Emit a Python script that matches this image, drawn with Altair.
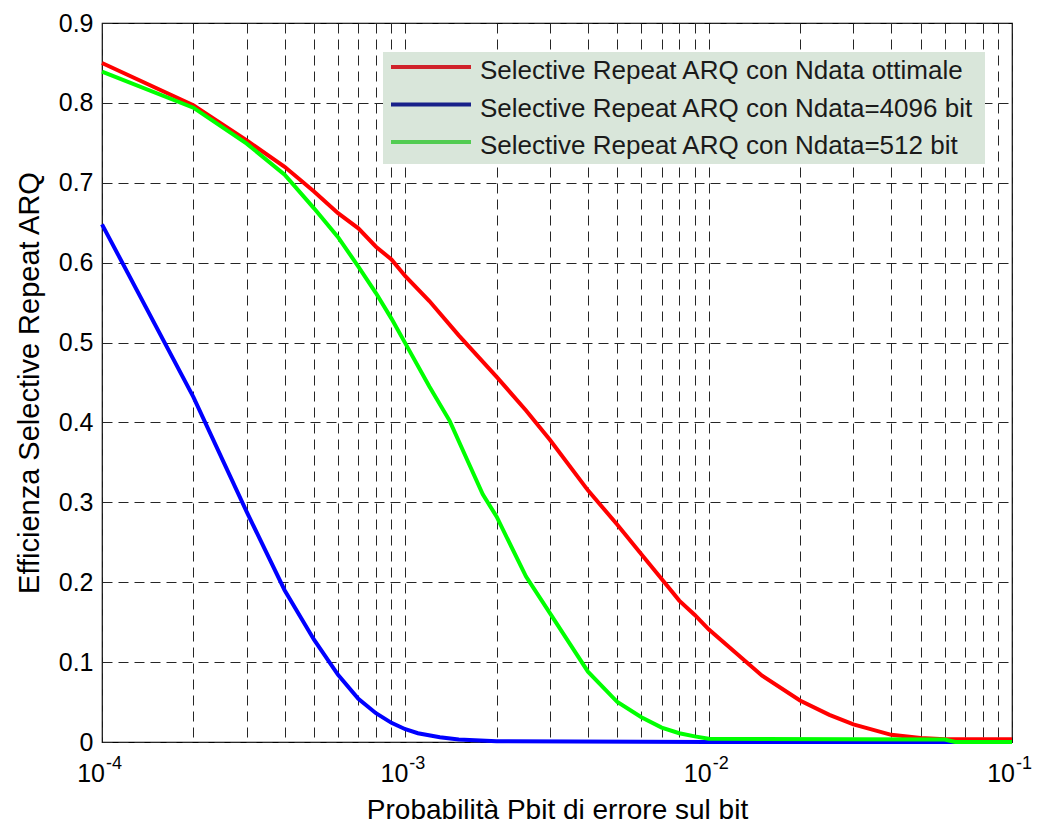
import altair as alt
import pandas as pd

FONT = "Liberation Sans"

# Selective Repeat ARQ efficiency versus bit error probability
# optimal frame length
p_opt = [1e-4, 2e-4, 3e-4, 4e-4, 5e-4, 6e-4, 7e-4, 8e-4, 9e-4,
         1e-3, 1.2e-3, 1.5e-3, 2e-3, 2.5e-3, 3e-3, 4e-3, 5e-3, 6e-3, 7e-3, 8e-3, 9e-3,
         1e-2, 1.5e-2, 2e-2, 2.5e-2, 3e-2, 4e-2, 5e-2, 6e-2, 8e-2, 1e-1]
eff_opt = [0.850, 0.797, 0.753, 0.720, 0.689, 0.662, 0.643, 0.620, 0.604,
           0.583, 0.552, 0.509, 0.457, 0.415, 0.378, 0.315, 0.272, 0.235, 0.204, 0.177, 0.159,
           0.141, 0.083, 0.052, 0.034, 0.022, 0.009, 0.005, 0.0035, 0.0035, 0.0035]

# Ndata = 4096 bit
p_4096 = [1e-4, 2e-4, 3e-4, 4e-4, 5e-4, 6e-4, 7e-4, 8e-4, 9e-4,
          1e-3, 1.1e-3, 1.3e-3, 1.5e-3, 2e-3, 1e-2, 1e-1]
eff_4096 = [0.648, 0.432, 0.288, 0.190, 0.128, 0.084, 0.054, 0.036, 0.024,
            0.016, 0.011, 0.006, 0.003, 0.001, 0.0, 0.0]

# Ndata = 512 bit
p_512 = [1e-4, 2e-4, 3e-4, 4e-4, 5e-4, 6e-4, 7e-4, 8e-4, 9e-4,
         1e-3, 1.2e-3, 1.4e-3, 1.6e-3, 1.8e-3, 2e-3, 2.5e-3, 3e-3, 3.5e-3, 4e-3,
         5e-3, 6e-3, 7e-3, 8e-3, 9e-3, 1e-2, 6e-2, 6.5e-2, 1e-1]
eff_512 = [0.839, 0.794, 0.749, 0.710, 0.668, 0.632, 0.595, 0.562, 0.530,
           0.499, 0.445, 0.402, 0.353, 0.310, 0.282, 0.207, 0.161, 0.122, 0.088,
           0.050, 0.031, 0.018, 0.011, 0.007, 0.004, 0.003, 0.0, 0.0]

series_names = [
    "Selective Repeat ARQ con Ndata ottimale",
    "Selective Repeat ARQ con Ndata=4096 bit",
    "Selective Repeat ARQ con Ndata=512 bit",
]
series_colors = ["#ff0000", "#0000ff", "#00ff00"]
swatch_colors = ["#d0222a", "#18208a", "#52cc52"]

decade_ticks = [1e-4, 1e-3, 1e-2, 1e-1]
decade_exponents = ["-4", "-3", "-2", "-1"]
grid_x = [m * 10.0 ** k for k in (-4, -3, -2) for m in range(1, 10)] + [1e-1]
grid_y = [0.0, 0.1, 0.2, 0.3, 0.4, 0.5, 0.6, 0.7, 0.8, 0.9]

W, H = 910, 719

frames = []
for name, xs, ys in zip(series_names, [p_opt, p_4096, p_512], [eff_opt, eff_4096, eff_512]):
    frames.append(pd.DataFrame({"p": xs, "eff": ys, "serie": name}))
curves = pd.concat(frames, ignore_index=True)

x_scale = alt.Scale(type="log", domain=[1e-4, 1e-1], nice=False)
y_scale = alt.Scale(domain=[0, 0.9], nice=False, zero=False)

grid_style = dict(grid=True, gridColor="#262626", gridDash=[10, 6], gridWidth=1,
                  ticks=False, tickSize=0, domain=False)

x_axis = alt.Axis(values=grid_x, labels=False, title="Probabilità Pbit di errore sul bit",
                  titleFont=FONT, titleFontSize=28, titleFontWeight="normal",
                  titleColor="black", titleY=76, titleBaseline="alphabetic", **grid_style)
y_axis = alt.Axis(values=grid_y, labelExpr="datum.value == 0 ? '0' : format(datum.value, '.1f')",
                  labelFont=FONT, labelFontSize=25, labelColor="black", labelPadding=9,
                  title="Efficienza Selective Repeat ARQ", titleFont=FONT, titleFontSize=29,
                  titleFontWeight="normal", titleColor="black", titleAngle=270,
                  titleX=-73, titleY=H / 2, titleAlign="center", titleBaseline="middle",
                  **grid_style)

x_enc = alt.X("p:Q", scale=x_scale, axis=x_axis)

base = alt.Chart(curves).encode(
    x=x_enc,
    y=alt.Y("eff:Q", scale=y_scale, axis=y_axis),
)

lines = [
    base.transform_filter(alt.datum.serie == name).mark_line(color=col, strokeWidth=4)
    for name, col in zip(series_names, series_colors)
]

# decade labels on the log axis: "10" with a raised exponent
ticks_df = pd.DataFrame({"p": decade_ticks, "base": ["10"] * len(decade_ticks), "exp": decade_exponents})
tick_base = alt.Chart(ticks_df).mark_text(
    align="right", baseline="alphabetic", font=FONT, fontSize=25, dx=3, color="black"
).encode(x=x_enc, y=alt.value(H + 40), text="base:N")
tick_exp = alt.Chart(ticks_df).mark_text(
    align="left", baseline="alphabetic", font=FONT, fontSize=18, dx=4, color="black"
).encode(x=x_enc, y=alt.value(H + 27), text="exp:N")

# legend box
legend_df = pd.DataFrame({"serie": series_names, "swatch": swatch_colors, "row": [0, 1, 2]})
legend_box = alt.Chart(pd.DataFrame({"k": [0]})).mark_rect(color="#d9e6da").encode(
    x=alt.value(281), x2=alt.value(883), y=alt.value(29), y2=alt.value(141)
)
legend_lines = alt.Chart(legend_df).transform_calculate(py="44 + datum.row * 37.5").mark_rule(
    strokeWidth=4
).encode(
    x=alt.value(289), x2=alt.value(369),
    y=alt.Y("py:Q", scale=None),
    color=alt.Color("swatch:N", scale=None),
)
legend_text = alt.Chart(legend_df).transform_calculate(py="44 + datum.row * 37.5").mark_text(
    align="left", baseline="middle", font=FONT, fontSize=26, dy=4, color="#1a1a1a"
).encode(x=alt.value(378), y=alt.Y("py:Q", scale=None), text="serie:N")

chart = alt.layer(
    *lines, tick_base, tick_exp, legend_box, legend_lines, legend_text
).properties(
    width=W, height=H,
    autosize=alt.AutoSizeParams(type="none"),
    padding={"left": 102, "top": 23, "right": 25, "bottom": 82},
    background="white",
).configure_view(stroke="black", strokeWidth=1.2)

chart.save("out.html", embed_options={"renderer": "svg", "actions": False})
